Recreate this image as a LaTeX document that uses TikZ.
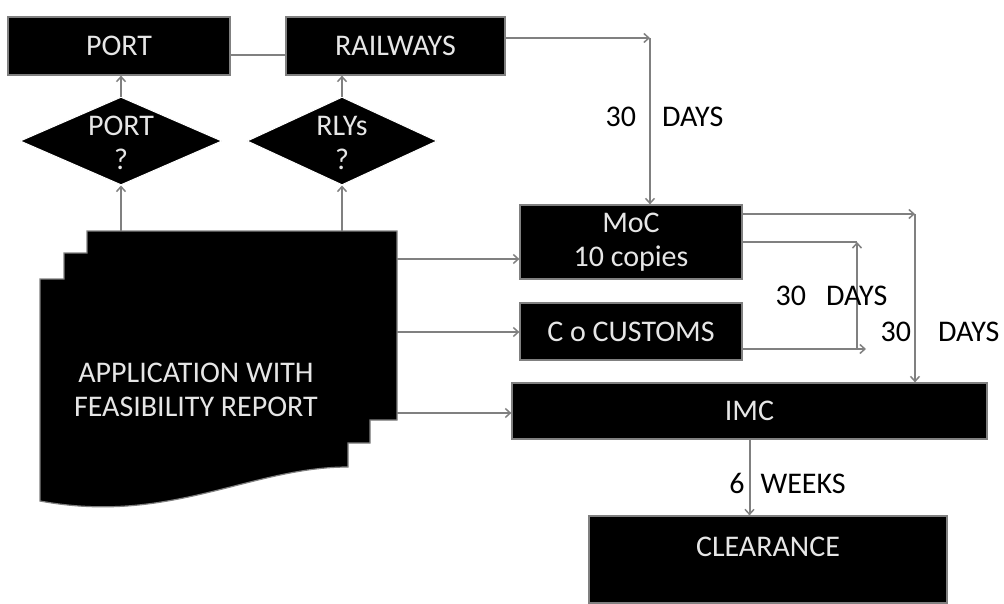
\documentclass[tikz,border=0pt]{standalone}
\usepackage{fontspec}
\setmainfont{Carlito}
\usetikzlibrary{shapes.geometric,arrows.meta,calc}
\definecolor{lgray}{HTML}{808080}
\definecolor{txtw}{HTML}{E6E6E6}
\tikzset{
  bigfont/.style={font=\fontsize{30}{34}\selectfont},
  blk/.style={draw=lgray, line width=1.2pt, fill=black, text=txtw, inner sep=0pt, bigfont, align=center},
  dia/.style={diamond, draw=white, line width=1pt, fill=black, inner sep=0pt, minimum width=202pt, minimum height=88pt},
  conn/.style={draw=lgray, line width=2pt, -{Straight Barb[length=5pt,width=9pt,line width=1.5pt]}},
  plain/.style={draw=lgray, line width=2pt},
  lab/.style={text=black, bigfont, inner sep=0pt},
  intext/.style={text=txtw, bigfont, align=center}
}
\begin{document}
\begin{tikzpicture}[x=1pt,y=-1pt]
\useasboundingbox (0,0) rectangle (1004,603);
% boxes
\node[blk, minimum width=222pt, minimum height=58pt] (port) at (119,46) {PORT};
\node[blk, minimum width=219pt, minimum height=58pt] (rail) at (395.5,46) {RAILWAYS};
\node[blk, minimum width=222pt, minimum height=74pt] (moc) at (631,242) {MoC\\10 copies};
\node[blk, minimum width=222pt, minimum height=57pt] (cus) at (631,331.5) {C o CUSTOMS};
\node[blk, minimum width=475pt, minimum height=56pt] (imc) at (749.5,411) {IMC};
\node[blk, minimum width=358pt, minimum height=87pt, label={[intext,yshift=12.5pt]center:CLEARANCE}] (clr) at (768,559.5) {};
% diamonds
\node[dia, label={[intext,yshift=-2pt]center:PORT\\?}] (dport) at (121,141) {};
\node[dia, minimum width=190pt, label={[intext,yshift=-2pt]center:RLYs\\?}] (drly) at (342,141) {};
% document stack
\path[fill=black, draw=lgray, line width=1.2pt]
  (87,231) -- (397,231) -- (397,420) -- (370,420) -- (370,443) -- (348,443) -- (348,467)
  .. controls (250,467) and (170,525) .. (40,501)
  -- (40,279) -- (64,279) -- (64,253) -- (87,253) -- cycle;
\node[intext, inner sep=0pt] (app) at (196,390) {APPLICATION WITH\\FEASIBILITY REPORT};
\coordinate (dt1) at (121,231);
\coordinate (dt2) at (342,231);
\coordinate (d1) at (397,259);
\coordinate (d2) at (397,332);
\coordinate (d3) at (397,413);
\coordinate (c1) at (650,38);
\coordinate (c2) at (915,214);
\coordinate (c3) at (857,242);
\coordinate (c4) at (857,349);
\coordinate (c5) at (866,349);
% connectors
\draw[plain] ([yshift=-9pt]port.east) -- ([yshift=-9pt]rail.west);
\draw[conn] (dport.north) -- (dport.north |- port.south);
\draw[conn] (drly.north) -- (drly.north |- rail.south);
\draw[conn] (dt1) -- (dport.south);
\draw[conn] (dt2) -- (drly.south);
\draw[conn] ([yshift=8pt]rail.east) -- (c1);
\draw[conn] (c1) -- (c1 |- moc.north);
\draw[conn] ([yshift=28pt]moc.east) -- (c2);
\draw[conn] (c2) -- (c2 |- imc.north);
\draw[plain] (moc.east) -- (c3);
\draw[conn] (c4) -- (c3);
\draw[conn] ([yshift=-17.5pt]cus.east) -- (c5);
\draw[conn] (d1) -- (d1 -| moc.west);
\draw[conn] (d2) -- (d2 -| cus.west);
\draw[conn] (d3) -- (d3 -| imc.west);
\draw[conn] (imc.south) -- (imc.south |- clr.north);
% labels
\node[lab] (l1) at (664.5,117) {30\hspace{26pt}DAYS};
\node[lab] (l2) at (831.5,296) {30\hspace{20pt}DAYS};
\node[lab] (l3) at (940,332) {30\hspace{27pt}DAYS};
\node[lab] (l4) at (787.5,483) {6\hspace{16pt}WEEKS};
\end{tikzpicture}
\end{document}
